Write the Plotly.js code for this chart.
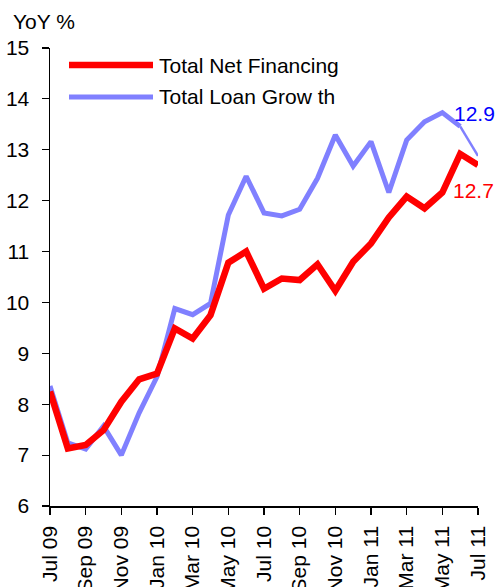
<!DOCTYPE html>
<html>
<head>
<meta charset="utf-8">
<script src="https://cdn.plot.ly/plotly-3.0.1.min.js"></script>
<style>html,body{margin:0;padding:0;background:#fff;}#chart{width:497px;height:587px;}</style>
</head>
<body>
<div id="chart"></div>
<script>
const months = ["Jul 09","Aug 09","Sep 09","Oct 09","Nov 09","Dec 09","Jan 10","Feb 10","Mar 10","Apr 10","May 10","Jun 10",
  "Jul 10","Aug 10","Sep 10","Oct 10","Nov 10","Dec 10","Jan 11","Feb 11","Mar 11","Apr 11","May 11","Jun 11","Jul 11"];
const tickLabels = ["Jul 09","Sep 09","Nov 09","Jan 10","Mar 10","May 10","Jul 10","Sep 10","Nov 10","Jan 11","Mar 11","May 11","Jul 11"];
const seriesNames = ["Total Net Financing","Total Loan Grow th"];
const netFinancing = [8.25,7.13,7.2,7.49,8.05,8.49,8.6,9.49,9.29,9.75,10.78,11.0,
  10.27,10.47,10.44,10.75,10.23,10.8,11.16,11.67,12.08,11.85,12.16,12.92,12.7];
const loanGrowth = [8.36,7.24,7.12,7.57,7.0,7.83,8.54,9.88,9.76,9.98,11.72,12.48,
  11.76,11.7,11.83,12.44,13.29,12.68,13.16,12.16,13.19,13.55,13.73,13.46,12.88];

const FONT = "Liberation Sans, Arial, sans-serif";
const FS = 21;
const red = "#FF0000", blue = "#8080FF";
const n = months.length;
const tickvals = tickLabels.map(t => months.indexOf(t));
const idx = months.map((m,i)=>i);

const traces = [
  {x: idx.slice(0, n-1), y: loanGrowth.slice(0, n-1), mode: "lines", line: {color: blue, width: 5}, name: seriesNames[1], hoverinfo: "skip"},
  {x: idx.slice(n-2), y: loanGrowth.slice(n-2), mode: "lines", line: {color: blue, width: 2.5}, hoverinfo: "skip"},
  {x: idx, y: netFinancing, mode: "lines", line: {color: red, width: 6.5}, name: seriesNames[0], hoverinfo: "skip"}
];

const lx0 = (69-50)/428, lx1 = (153-50)/428, ltx = (157-50)/428;
const ly0 = 1-(65-48)/458, ly1 = 1-(97-48)/458;

const layout = {
  width: 497, height: 587,
  margin: {l: 50, r: 19, t: 48, b: 81, pad: 0},
  paper_bgcolor: "#fff", plot_bgcolor: "#fff",
  showlegend: false,
  font: {family: FONT, size: FS, color: "#000"},
  xaxis: {
    range: [0, n-1], tickmode: "array", tickvals: tickvals, ticktext: tickLabels,
    tickangle: -90, ticks: "outside", ticklen: 7, tickwidth: 1.2, tickcolor: "#000",
    showline: true, linecolor: "#000", linewidth: 1.5, showgrid: false, zeroline: false,
    tickfont: {family: FONT, size: FS, color: "#000"}, ticklabelstandoff: 3, fixedrange: true
  },
  yaxis: {
    range: [6, 15], tickvals: [6,7,8,9,10,11,12,13,14,15],
    ticks: "outside", ticklen: 7, tickwidth: 1.2, tickcolor: "#000",
    showline: true, linecolor: "#000", linewidth: 1.5, showgrid: false, zeroline: false,
    tickfont: {family: FONT, size: FS, color: "#000"}, ticklabelstandoff: 8, fixedrange: true
  },
  shapes: [
    {type: "line", xref: "paper", yref: "paper", x0: lx0, x1: lx1, y0: ly0, y1: ly0, line: {color: red, width: 6.5}},
    {type: "line", xref: "paper", yref: "paper", x0: lx0, x1: lx1, y0: ly1, y1: ly1, line: {color: blue, width: 5}}
  ],
  annotations: [
    {text: "YoY %", xref: "paper", yref: "paper", x: (11-50)/428, y: 1+(48-22)/458, xanchor: "left", yanchor: "middle", showarrow: false, font: {size: FS}},
    {text: seriesNames[0], xref: "paper", yref: "paper", x: ltx, y: ly0, xanchor: "left", yanchor: "middle", showarrow: false, font: {size: FS}},
    {text: seriesNames[1], xref: "paper", yref: "paper", x: ltx, y: ly1, xanchor: "left", yanchor: "middle", showarrow: false, font: {size: FS}},
    {text: loanGrowth[n-1].toFixed(1), x: n-1, y: loanGrowth[n-1], xanchor: "center", yanchor: "middle", xshift: -4, yshift: 42, showarrow: false, font: {size: FS, color: "#0000FF"}},
    {text: netFinancing[n-1].toFixed(1), x: n-1, y: netFinancing[n-1], xanchor: "center", yanchor: "middle", xshift: -5, yshift: -25, showarrow: false, font: {size: FS, color: red}}
  ]
};

Plotly.newPlot("chart", traces, layout, {displayModeBar: false, staticPlot: true});
</script>
</body>
</html>
